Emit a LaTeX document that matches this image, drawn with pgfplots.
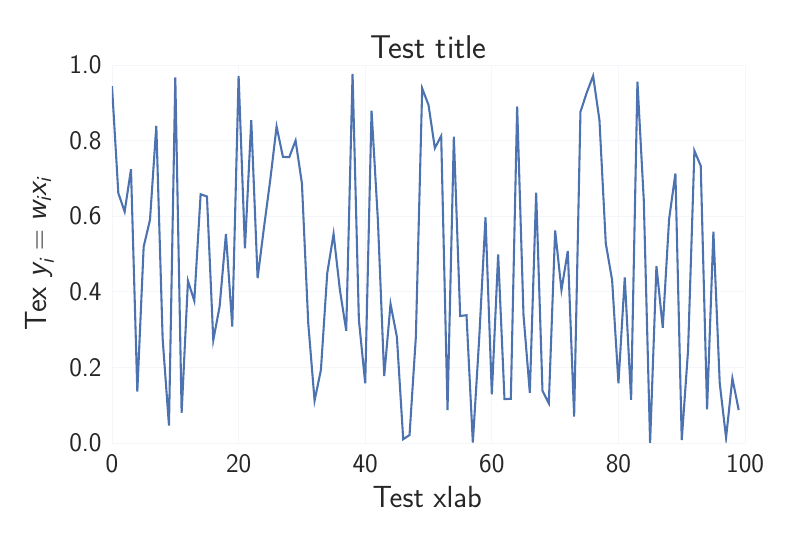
\documentclass[border=0pt]{standalone}
\usepackage{amsmath}
\usepackage{pgfplots}
\pgfplotsset{compat=1.18}
\renewcommand{\familydefault}{\sfdefault}
\definecolor{sbblue}{RGB}{76,114,176}
\definecolor{txt}{RGB}{38,38,38}
\definecolor{gridc}{RGB}{244,246,250}
\newcommand{\si}[1]{\textsf{\itshape #1}}
\begin{document}
\begin{tikzpicture}
\begin{axis}[
  scale only axis,
  width=455.8pt, height=272.2pt,
  at={(0,0)}, anchor=origin,
  xmin=0, xmax=100, ymin=0, ymax=1,
  xtick={0,20,40,60,80,100},
  ytick={0,0.2,0.4,0.6,0.8,1.0},
  /pgf/number format/assume math mode=true,
  axis line style={draw=none},
  major tick length=0pt,
  grid=major,
  major grid style={draw=gridc, line width=0.6pt},
  tick label style={font=\fontsize{19.3}{22}\selectfont, text=txt},
  xticklabel style={yshift=-5pt},
  yticklabel style={xshift=-4pt, /pgf/number format/fixed, /pgf/number format/fixed zerofill, /pgf/number format/precision=1},
  title={Test title},
  title style={font=\fontsize{23.7}{28}\selectfont, text=txt, at={(axis description cs:0.5,1.024)}, anchor=center},
  xlabel={Test xlab},
  ylabel={Tex $\si{y}_{\si{i}} = \si{w}_{\si{i}}\si{x}_{\si{i}}$},
  every axis x label/.style={at={(axis description cs:0.498,-0.143)}, anchor=center, font=\fontsize{22}{26}\selectfont, text=txt},
  every axis y label/.style={at={(axis description cs:-0.114,0.5)}, rotate=90, anchor=center, font=\fontsize{22}{26}\selectfont, text=txt},
]
\addplot[sbblue, line width=1.5pt, no marks] coordinates {
(0,0.944) (1,0.661) (2,0.612) (3,0.724) (4,0.136) (5,0.519) (6,0.590) (7,0.839) (8,0.276) (9,0.046)
(10,0.967) (11,0.080) (12,0.429) (13,0.376) (14,0.658) (15,0.652) (16,0.272) (17,0.361) (18,0.553) (19,0.308)
(20,0.971) (21,0.515) (22,0.854) (23,0.436) (24,0.569) (25,0.696) (26,0.837) (27,0.757) (28,0.756) (29,0.800)
(30,0.687) (31,0.317) (32,0.112) (33,0.193) (34,0.449) (35,0.553) (36,0.405) (37,0.297) (38,0.976) (39,0.325)
(40,0.158) (41,0.879) (42,0.590) (43,0.177) (44,0.368) (45,0.281) (46,0.010) (47,0.021) (48,0.281) (49,0.938)
(50,0.894) (51,0.780) (52,0.812) (53,0.087) (54,0.810) (55,0.336) (56,0.338) (57,0.001) (58,0.275) (59,0.597)
(60,0.129) (61,0.499) (62,0.116) (63,0.117) (64,0.890) (65,0.339) (66,0.133) (67,0.662) (68,0.138) (69,0.105)
(70,0.562) (71,0.405) (72,0.508) (73,0.070) (74,0.876) (75,0.927) (76,0.971) (77,0.854) (78,0.528) (79,0.431)
(80,0.158) (81,0.438) (82,0.114) (83,0.956) (84,0.643) (85,0.000) (86,0.468) (87,0.305) (88,0.592) (89,0.713)
(90,0.008) (91,0.246) (92,0.773) (93,0.733) (94,0.089) (95,0.559) (96,0.158) (97,0.014) (98,0.171) (99,0.087)
};
\end{axis}
\pgfresetboundingbox
\path[use as bounding box] (-80.64pt,-77.04pt) rectangle (495.36pt,318.96pt);
\end{tikzpicture}
\end{document}
